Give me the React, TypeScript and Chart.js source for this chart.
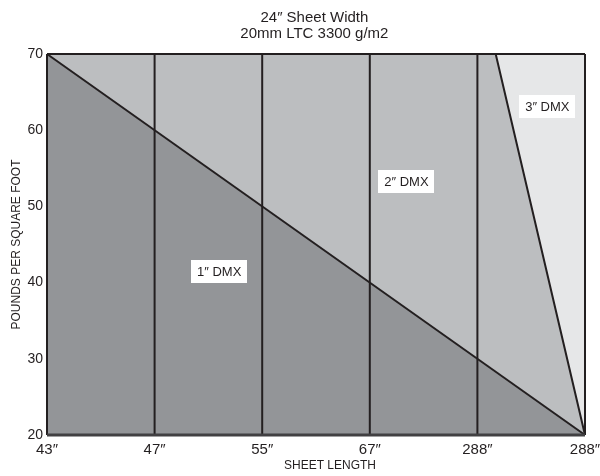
import React, { useEffect, useRef } from 'react';
import { Chart, registerables } from 'chart.js';

Chart.register(...registerables);

// ---- data ----
const xLabels = ['43″', '47″', '55″', '67″', '288″', '288″'];
const xIndex = [0, 1, 2, 3, 4, 5];
const yMin = 20;
const yMax = 70;
const yStep = 10;

// 1" DMX / 2" DMX boundary (diagonal)
const diagonalX = [0, 5];
const diagonalY = [70, 20];

// 2" DMX / 3" DMX boundary
const dmx3X = [0, 4.17, 5];
const dmx3Y = [70, 70, 20];

// top of chart (3" DMX region)
const topX = [0, 5];
const topY = [70, 70];

const regionNames = ['1″ DMX', '2″ DMX', '3″ DMX'];
const regionX = [1.6, 3.34, 4.65];
const regionY = [41.5, 53.3, 63.1];

const titleLines = ['24″ Sheet Width', '20mm LTC 3300 g/m2'];
const xTitle = 'SHEET LENGTH';
const yTitle = 'POUNDS PER SQUARE FOOT';

const FONT = "'Liberation Sans', Arial, sans-serif";
const DARK_FILL = '#939598';
const MID_FILL = '#bcbec0';
const LIGHT_FILL = '#e6e7e8';
const LINE = '#231f20';

const pts = (xs: number[], ys: number[]) => xs.map((x, i) => ({ x, y: ys[i] }));

const textPlugin = {
  id: 'textPlugin',
  afterDatasetsDraw(chart: any) {
    const { ctx, scales, chartArea } = chart;
    ctx.save();
    ctx.font = `13px ${FONT}`;
    ctx.textAlign = 'center';
    ctx.textBaseline = 'middle';
    regionNames.forEach((name, i) => {
      const px = scales.x.getPixelForValue(regionX[i]);
      const py = scales.y.getPixelForValue(regionY[i]);
      const w = ctx.measureText(name).width + 12;
      const h = 23;
      ctx.fillStyle = '#ffffff';
      ctx.fillRect(Math.round(px - w / 2), Math.round(py - h / 2), Math.round(w), h);
      ctx.fillStyle = LINE;
      ctx.fillText(name, px, py + 1);
    });
    ctx.restore();
  },
  afterDraw(chart: any) {
    const { ctx, chartArea } = chart;
    ctx.save();
    ctx.fillStyle = LINE;
    ctx.textAlign = 'center';
    ctx.textBaseline = 'alphabetic';
    ctx.font = `15px ${FONT}`;
    const cx = chartArea.left + (chartArea.right - chartArea.left) * 0.497;
    ctx.fillText(titleLines[0], cx, 22);
    ctx.fillText(titleLines[1], cx, 38);
    ctx.font = `12px ${FONT}`;
    ctx.textBaseline = 'middle';
    ctx.fillText(xTitle, chartArea.left + (chartArea.right - chartArea.left) * 0.526, 466);
    ctx.restore();
  },
};

export default function App() {
  const ref = useRef<HTMLCanvasElement>(null);
  useEffect(() => {
    if (!ref.current) return;
    const base = { showLine: true, pointRadius: 0, pointHoverRadius: 0, borderColor: LINE, borderWidth: 2, clip: 6, tension: 0 };
    const verticals = xIndex.map((x) => ({
      ...base,
      data: pts([x, x], [yMin, yMax]),
      fill: false,
      order: 5,
    }));
    const chart = new Chart(ref.current, {
      type: 'scatter',
      data: {
        datasets: [
          { ...base, data: pts(topX, topY), fill: 'start', backgroundColor: LIGHT_FILL, order: 10 },
          { ...base, data: pts(dmx3X, dmx3Y), fill: 'start', backgroundColor: MID_FILL, order: 9 },
          { ...base, data: pts(diagonalX, diagonalY), fill: 'start', backgroundColor: DARK_FILL, order: 8 },
          ...verticals,
          { ...base, data: pts([0, 5], [yMin, yMin]), fill: false, borderColor: '#414042', borderWidth: 3, order: 1 },
        ] as any,
      },
      options: {
        responsive: false,
        animation: false,
        events: [],
        layout: { padding: { left: 0, right: 15, top: 54, bottom: 0 } },
        plugins: {
          legend: { display: false },
          tooltip: { enabled: false },
          title: { display: false },
        },
        scales: {
          x: {
            type: 'linear',
            min: 0,
            max: 5,
            grid: { display: false, drawTicks: false },
            border: { display: false },
            afterBuildTicks: (scale: any) => {
              scale.ticks = xIndex.map((v) => ({ value: v }));
            },
            ticks: {
              color: LINE,
              padding: 6,
              autoSkip: false,
              maxRotation: 0,
              font: { family: FONT, size: 15 },
              callback: (v: any) => xLabels[Math.round(Number(v))] ?? '',
            },
            title: { display: false },
            afterFit: (scale: any) => {
              scale.height = 41;
              scale.paddingLeft = 0;
              scale.paddingRight = 0;
            },
          },
          y: {
            type: 'linear',
            min: yMin,
            max: yMax,
            grid: { display: false, drawTicks: false },
            border: { display: false },
            ticks: {
              stepSize: yStep,
              color: LINE,
              padding: 4,
              font: { family: FONT, size: 14 },
            },
            title: {
              display: true,
              text: yTitle,
              color: LINE,
              font: { family: FONT, size: 12 },
              padding: { top: 9, bottom: 0 },
            },
            afterFit: (scale: any) => {
              scale.width = 47;
              scale.paddingTop = 0;
              scale.paddingBottom = 0;
            },
          },
        },
      } as any,
      plugins: [textPlugin],
    });
    return () => chart.destroy();
  }, []);
  return (
    <div style={{ position: 'fixed', left: 0, top: 0, width: 600, height: 476, background: '#fff' }}>
      <canvas ref={ref} width={600} height={476} style={{ display: 'block' }} />
    </div>
  );
}
